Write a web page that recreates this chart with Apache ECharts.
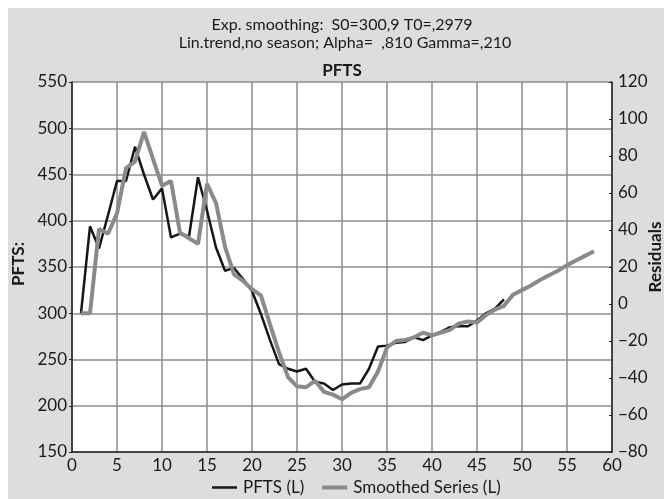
<!DOCTYPE html>
<html>
<head>
<meta charset="utf-8">
<script src="https://cdn.jsdelivr.net/npm/echarts@6/dist/echarts.min.js"></script>
<style>
html,body{margin:0;padding:0;background:#ffffff;}
#wrap{position:relative;width:664px;height:499px;overflow:hidden;}
#bg{position:absolute;left:8px;top:8px;width:656px;height:491px;background:#dcdddf;}
#chart{position:absolute;left:0;top:0;width:664px;height:499px;}
</style>
</head>
<body>
<div id="wrap"><div id="bg"></div><div id="chart"></div></div>
<script>
// ---- data ----
const titleLine1 = 'Exp. smoothing:  S0=300,9 T0=,2979';
const titleLine2 = 'Lin.trend,no season; Alpha=  ,810 Gamma=,210';
const titleLine3 = 'PFTS';
const leftAxisName = 'PFTS:';
const rightAxisName = 'Residuals';
const seriesNames = ['PFTS (L)', 'Smoothed Series (L)'];

const pftsX = [1,2,3,4,5,6,7,8,9,10,11,12,13,14,15,16,17,18,19,20,21,22,23,24,25,26,27,28,29,30,31,32,33,34,35,36,37,38,39,40,41,42,43,44,45,46,47,48];
const pftsY = [300,394,370,406,443,443,480,450,423,435,382,386,383,447,411,371,346,349,337,324,299,271,245,240,237,240,226,224,217,223,224,224,240,264,265,268,269,274,271,276,280,285,286,286,292,300,305,315];

const smoothX = [1,2,3,4,5,6,7,8,9,10,11,12,13,14,15,16,17,18,19,20,21,22,23,24,25,26,27,28,29,30,31,32,33,34,35,36,37,38,39,40,41,42,43,44,45,46,47,48,49,50,51,52,53,54,55,56,57,58];
const smoothY = [300,300,391,386,408,457,464,496,467,438,443,387,381,375,440,419,372,342,335,326,319,288,258,231,221,220,227,215,212,207,214,218,220,237,263,270,271,274,279,276,279,282,289,291,290,298,304,308,320,325,330,336,341,346,352,357,362,367];

const xTicks = {min:0, max:60, step:5};
const leftTicks = {min:150, max:550, step:50};
const rightTicks = {min:-80, max:120, step:20};

// ---- chart ----
const FONT = 'Lato, "Open Sans", sans-serif';
const INK = '#1a1a1a';
const chart = echarts.init(document.getElementById('chart'), null, {renderer:'canvas'});
const pairs = (xs, ys) => xs.map((x, i) => [x, ys[i]]);

chart.setOption({
  backgroundColor: 'transparent',
  animation: false,
  textStyle: {fontFamily: FONT},
  grid: {left:72, right:52, top:82, bottom:47, show:true, backgroundColor:'#ffffff', borderWidth:0},
  graphic: [
    {type:'text', x:342, y:25, style:{text:titleLine1, align:'center', verticalAlign:'middle', font:'16px ' + FONT, fill:INK}},
    {type:'text', x:345, y:43, style:{text:titleLine2, align:'center', verticalAlign:'middle', font:'16px ' + FONT, fill:INK}},
    {type:'text', x:342, y:71, style:{text:titleLine3, align:'center', verticalAlign:'middle', font:'bold 17px ' + FONT, fill:INK}},
    {type:'text', x:19, y:264, rotation:Math.PI/2, style:{text:leftAxisName, align:'center', verticalAlign:'middle', font:'bold 17px ' + FONT, fill:INK}},
    {type:'text', x:656, y:257, rotation:Math.PI/2, style:{text:rightAxisName, align:'center', verticalAlign:'middle', font:'bold 17px ' + FONT, fill:INK}}
  ],
  legend: {
    top: 474, left: 207, itemGap: 18, itemWidth: 25, itemHeight: 4,
    textStyle: {fontSize: 17, color:INK, fontFamily: FONT, padding:[0,0,0,1]},
    data: [
      {name: seriesNames[0], icon:'path://M0,0.7H25V3.3H0Z M0,0H0.001V4H0Z', itemStyle:{color:'#161616'}},
      {name: seriesNames[1], icon:'rect', itemStyle:{color:'#8a8a8a'}}
    ]
  },
  xAxis: {
    type:'value', min:xTicks.min, max:xTicks.max, interval:xTicks.step,
    axisLine:{show:true, onZero:false, lineStyle:{color:'#222', width:1.5}},
    axisTick:{show:false},
    axisLabel:{fontSize:17, color:INK, margin:5},
    splitLine:{show:true, lineStyle:{color:'#8c8c8c', width:1.5}}
  },
  yAxis: [
    {
      type:'value', position:'left', min:leftTicks.min, max:leftTicks.max, interval:leftTicks.step,
      axisLine:{show:true, lineStyle:{color:'#222', width:1.5}},
      axisTick:{show:true, length:3, lineStyle:{color:'#222'}},
      axisLabel:{fontSize:17, color:INK, margin:5},
      splitLine:{show:true, lineStyle:{color:'#8c8c8c', width:1.5}}
    },
    {
      type:'value', position:'right', min:rightTicks.min, max:rightTicks.max, interval:rightTicks.step,
      axisLine:{show:true, lineStyle:{color:'#222', width:1.5}},
      axisTick:{show:true, inside:true, length:3, lineStyle:{color:'#222'}},
      axisLabel:{fontSize:17, color:INK, margin:6, formatter: v => (v < 0 ? '\u2212' + Math.abs(v) : String(v))},
      splitLine:{show:false}
    }
  ],
  series: [
    {name:seriesNames[0], type:'line', yAxisIndex:0, symbol:'none', data:pairs(pftsX, pftsY),
     lineStyle:{color:'#161616', width:2.5}, itemStyle:{color:'#161616'}},
    {name:seriesNames[1], type:'line', yAxisIndex:0, symbol:'none', data:pairs(smoothX, smoothY),
     lineStyle:{color:'#8a8a8a', width:4}, itemStyle:{color:'#8a8a8a'}}
  ]
});
</script>
</body>
</html>
